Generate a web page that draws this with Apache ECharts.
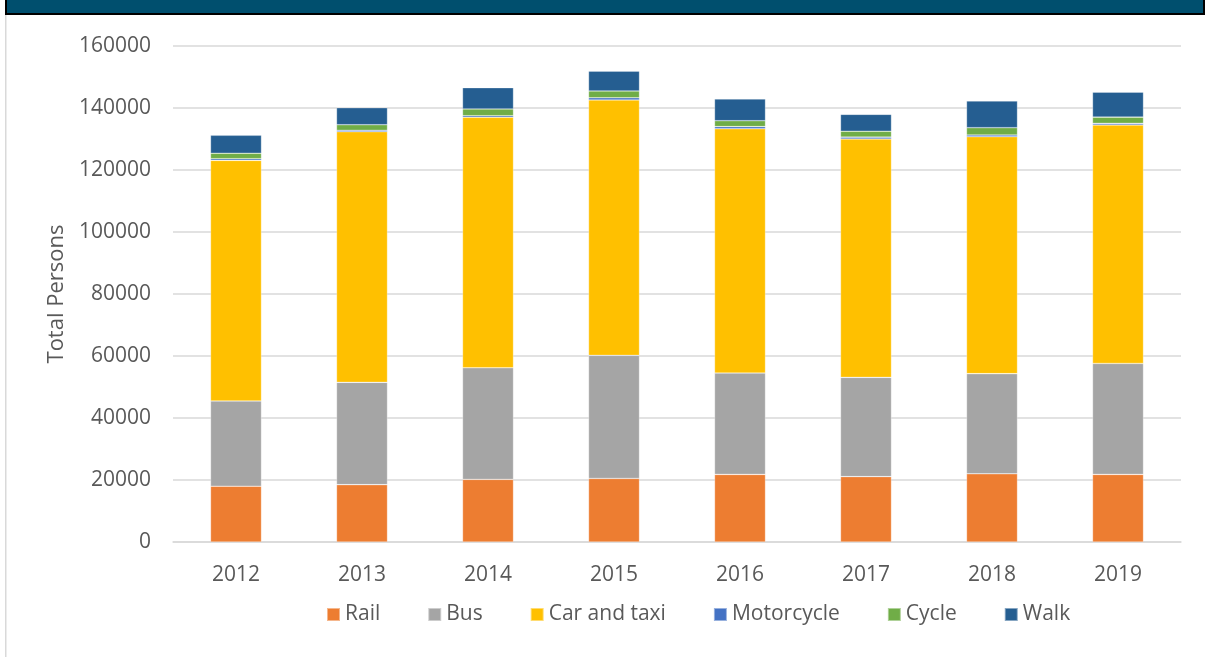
<!DOCTYPE html>
<html>
<head>
<meta charset="utf-8">
<style>
  html, body { margin: 0; padding: 0; background: #fff; }
  #chart-container { width: 1207px; height: 657px; }
</style>
<script src="https://cdn.jsdelivr.net/npm/echarts@6/dist/echarts.min.js"></script>
</head>
<body>
<div id="chart-container"></div>
<script>
var years = ['2012', '2013', '2014', '2015', '2016', '2017', '2018', '2019'];

// values (persons)
var rail = [18000, 18500, 20200, 20500, 21800, 21100, 22000, 21800];
var bus = [27500, 33000, 36000, 39700, 32700, 32000, 32300, 35800];
var carTaxi = [77600, 80850, 80800, 82400, 78800, 76900, 76450, 76900];
var motorcycle = [550, 450, 500, 700, 700, 600, 550, 550];
var cycle = [1750, 1800, 2200, 2200, 1900, 1900, 2350, 2000];
var walk = [5800, 5500, 6850, 6400, 7000, 5450, 8600, 8050];

var seriesNames = ['Rail', 'Bus', 'Car and taxi', 'Motorcycle', 'Cycle', 'Walk'];
var seriesData = [rail, bus, carTaxi, motorcycle, cycle, walk];
var colors = ['#ED7D31', '#A5A5A5', '#FFC000', '#4472C4', '#70AD47', '#255E91'];

var textColor = '#595959';
var fontFamily = '"Open Sans", "Noto Sans", sans-serif';

var dom = document.getElementById('chart-container');
var myChart = echarts.init(dom, null, { renderer: 'canvas' });

var option = {
  animation: false,
  color: colors,
  textStyle: { fontFamily: fontFamily },
  graphic: [
    // header band cut off at the top
    { type: 'rect', shape: { x: 6, y: -2, width: 1198, height: 16 },
      style: { fill: '#004F6E', stroke: '#000', lineWidth: 2 } },
    // left frame line
    { type: 'rect', shape: { x: 5, y: 15, width: 1.5, height: 650 },
      style: { fill: '#d9d9d9' } }
  ],
  grid: { left: 173, right: 26, top: 46, bottom: 115 },
  legend: {
    data: seriesNames,
    left: 321,
    top: 599,
    itemWidth: 13,
    itemHeight: 13,
    itemGap: 47,
    icon: 'rect',
    textStyle: { color: textColor, fontSize: 21, fontFamily: fontFamily }
  },
  xAxis: {
    type: 'category',
    data: years,
    axisLine: { lineStyle: { color: '#d9d9d9', width: 1.5 } },
    axisTick: { show: false },
    axisLabel: { color: textColor, fontSize: 21, margin: 23 }
  },
  yAxis: {
    type: 'value',
    min: 0,
    max: 160000,
    interval: 20000,
    name: 'Total Persons',
    nameLocation: 'middle',
    nameGap: 104,
    nameTextStyle: { color: textColor, fontSize: 22 },
    axisLine: { show: false },
    axisTick: { show: false },
    axisLabel: {
      color: textColor,
      fontSize: 21,
      margin: 22,
      formatter: function (v) { return String(v); }
    },
    splitLine: { lineStyle: { color: '#d9d9d9', width: 1.5 } }
  },
  series: seriesNames.map(function (name, i) {
    return {
      name: name,
      type: 'bar',
      stack: 'total',
      barWidth: 51,
      data: seriesData[i],
      itemStyle: { borderColor: 'rgba(255,255,255,0.45)', borderWidth: 0.6 }
    };
  })
};

myChart.setOption(option);
window.addEventListener('resize', myChart.resize);
</script>
</body>
</html>
